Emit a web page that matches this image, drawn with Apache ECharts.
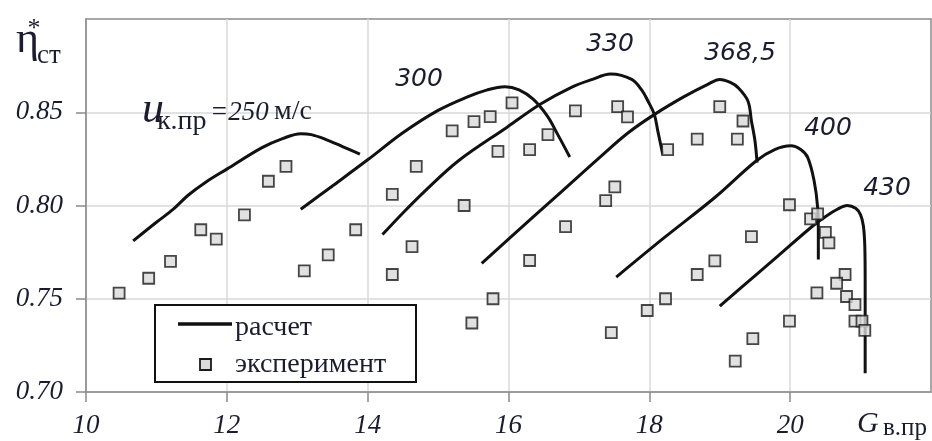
<!DOCTYPE html>
<html>
<head>
<meta charset="utf-8">
<script src="https://cdn.jsdelivr.net/npm/echarts@6/dist/echarts.min.js"></script>
<style>
  html, body { margin: 0; padding: 0; background: #fff; }
  #chart { width: 932px; height: 441px; }
</style>
</head>
<body>
<div id="chart"></div>
<script>
// Axis ticks
const xTickValues = [10, 12, 14, 16, 18, 20];
const yTickValues = [0.70, 0.75, 0.80, 0.85];

// Computed stage efficiency lines (расчет), one per corrected blade speed, [G, eta]
const calc250 = [[10.67, 0.781], [11.0, 0.791], [11.24, 0.798], [11.45, 0.8055], [11.7, 0.8125], [12.0, 0.8195],
  [12.5, 0.831], [12.8, 0.836], [13.05, 0.8385], [13.2, 0.838], [13.4, 0.8355], [13.65, 0.8315], [13.89, 0.8275]];
const calc300 = [[13.05, 0.798], [13.5, 0.8105], [14.0, 0.8245], [14.5, 0.839], [15.0, 0.851], [15.4, 0.858],
  [15.7, 0.862], [15.95, 0.8637], [16.15, 0.862], [16.35, 0.857], [16.55, 0.848], [16.7, 0.838], [16.87, 0.826]];
const calc330 = [[14.21, 0.7844], [14.5, 0.796], [14.82, 0.808], [15.29, 0.824], [15.98, 0.842], [16.45, 0.8543],
  [16.9, 0.8635], [17.18, 0.8675], [17.45, 0.8705], [17.75, 0.8676], [17.9, 0.8615], [17.98, 0.856],
  [18.07, 0.849], [18.12, 0.840], [18.19, 0.8275]];
const calc368 = [[15.62, 0.769], [16.0, 0.782], [16.71, 0.806], [17.3, 0.826], [17.7, 0.839], [18.08, 0.849],
  [18.5, 0.8585], [18.83, 0.865], [19.0, 0.8676], [19.15, 0.866], [19.26, 0.8632], [19.4, 0.856],
  [19.45, 0.8453], [19.5, 0.8347], [19.53, 0.823]];
const calc400 = [[17.53, 0.7616], [18.22, 0.783], [18.93, 0.8043], [19.52, 0.824], [19.78, 0.830], [20.01, 0.832],
  [20.15, 0.830], [20.25, 0.8257], [20.34, 0.8133], [20.39, 0.799], [20.40, 0.785], [20.40, 0.771]];
const calc430 = [[19.0, 0.746], [19.54, 0.7636], [19.82, 0.7727], [20.32, 0.789], [20.5, 0.794], [20.67, 0.798],
  [20.81, 0.800], [20.93, 0.7985], [21.0, 0.795], [21.04, 0.789], [21.06, 0.778], [21.065, 0.76],
  [21.065, 0.735], [21.065, 0.710]];

// Experimental points (эксперимент), [G, eta]
const experiment = [
  [10.47, 0.753], [10.89, 0.761], [11.20, 0.770], [11.63, 0.787], [11.85, 0.782], [12.25, 0.795],
  [12.59, 0.813], [12.84, 0.821], [13.10, 0.765], [13.44, 0.7735], [13.83, 0.787],
  [14.35, 0.806], [14.35, 0.763], [14.63, 0.778], [14.69, 0.821], [15.20, 0.840], [15.51, 0.845],
  [15.74, 0.8477], [16.05, 0.855], [15.37, 0.800], [15.85, 0.829], [16.30, 0.830], [16.56, 0.838],
  [16.95, 0.8507], [17.55, 0.853], [17.51, 0.810], [17.38, 0.8026], [16.81, 0.7887], [16.30, 0.7705],
  [15.78, 0.750], [15.48, 0.737], [17.46, 0.7318],
  [17.69, 0.8475], [18.26, 0.830], [18.68, 0.8356], [19.0, 0.853], [19.33, 0.8453], [19.25, 0.8356],
  [19.45, 0.7833], [18.93, 0.7703], [18.68, 0.763], [18.23, 0.750], [17.97, 0.7437], [19.47, 0.7286],
  [19.22, 0.7166],
  [19.99, 0.8004], [20.29, 0.7928], [20.39, 0.7955], [20.50, 0.7856], [20.55, 0.780], [20.78, 0.763],
  [20.66, 0.7583], [20.38, 0.7532], [20.80, 0.7512], [20.92, 0.7468], [19.99, 0.738], [20.92, 0.738],
  [21.02, 0.738], [21.06, 0.733]
];

const calcLines = [calc250, calc300, calc330, calc368, calc400, calc430];

const SERIF = '"Liberation Serif", "Times New Roman", serif';
const SANS = '"DejaVu Sans", Verdana, sans-serif';
const INK = '#1c1c30';

function txt(text, x, y, font, align, extra) {
  return Object.assign({
    type: 'text', z: 50,
    style: { text: text, x: x, y: y, font: font, fill: INK,
      align: align || 'left', textAlign: align || 'left',
      verticalAlign: 'middle', textVerticalAlign: 'middle' }
  }, extra || {});
}

const chart = echarts.init(document.getElementById('chart'), null, { renderer: 'canvas' });

const series = calcLines.map(pts => ({
  type: 'line', name: 'расчет', data: pts, symbol: 'none', smooth: 0.35,
  lineStyle: { color: '#111', width: 3 }, z: 3, silent: true
}));
series.push({
  type: 'scatter', name: 'эксперимент', data: experiment, symbol: 'rect', symbolSize: 11,
  itemStyle: { color: '#d9d9d9', borderColor: '#1a1a1a', borderWidth: 1.8 }, z: 5, silent: true
});

chart.setOption({
  animation: false,
  backgroundColor: '#fff',
  grid: { left: 86, top: 19, right: 1, bottom: 49, show: true, borderColor: '#8a8a8a', borderWidth: 1.5 },
  xAxis: {
    type: 'value', min: 10, max: 22, interval: 2,
    axisLine: { show: true, lineStyle: { color: '#8a8a8a', width: 1.5 } },
    axisTick: { show: true, length: 10, customValues: xTickValues, lineStyle: { color: '#8a8a8a', width: 1.5 } },
    axisLabel: { customValues: xTickValues, margin: 20, color: INK,
      fontFamily: SERIF, fontStyle: 'italic', fontSize: 27 },
    splitLine: { show: true, lineStyle: { color: '#d9d9d9', width: 1.5 } }
  },
  yAxis: {
    type: 'value', min: 0.70, max: 0.90, interval: 0.05,
    axisLine: { show: true, lineStyle: { color: '#8a8a8a', width: 1.5 } },
    axisTick: { show: true, length: 10, customValues: yTickValues, lineStyle: { color: '#8a8a8a', width: 1.5 } },
    axisLabel: { customValues: yTickValues, margin: 23, color: INK,
      fontFamily: SERIF, fontStyle: 'italic', fontSize: 27,
      formatter: v => v.toFixed(2) },
    splitLine: { show: true, lineStyle: { color: '#d9d9d9', width: 1.5 } }
  },
  series: series,
  graphic: [
    // y axis name: η*ст
    txt('η', 16, 40, '44px ' + SERIF),
    txt('*', 34, 29, '26px ' + SERIF, 'center'),
    txt('ст', 37, 56, '27px ' + SERIF),
    // x axis name: Gв.пр
    txt('G', 857, 424, 'italic 30px ' + SERIF),
    txt('в.пр', 883, 428, '25px ' + SERIF),
    // speed labels
    txt('u', 142, 110, 'italic 44px ' + SERIF),
    txt('к.пр', 157, 122, '28px ' + SERIF),
    txt('=250', 210, 113, 'italic 27px ' + SERIF),
    txt('м/с', 274, 112, '28px ' + SERIF),
    txt('300', 419, 79, 'italic 25px ' + SANS, 'center'),
    txt('330', 610, 44, 'italic 25px ' + SANS, 'center'),
    txt('368,5', 740, 53, 'italic 25px ' + SANS, 'center'),
    txt('400', 828, 128, 'italic 25px ' + SANS, 'center'),
    txt('430', 887, 188, 'italic 25px ' + SANS, 'center'),
    // legend box
    { type: 'rect', z: 40, shape: { x: 155, y: 305, width: 261, height: 77 },
      style: { fill: '#fff', stroke: '#111', lineWidth: 2 } },
    { type: 'line', z: 45, shape: { x1: 178, y1: 324, x2: 232, y2: 324 },
      style: { stroke: '#111', lineWidth: 3.5 } },
    { type: 'rect', z: 45, shape: { x: 200, y: 359, width: 11, height: 11 },
      style: { fill: '#d9d9d9', stroke: '#1a1a1a', lineWidth: 1.8 } },
    txt('расчет', 235, 328, '28px ' + SERIF, 'left', { z: 50 }),
    txt('эксперимент', 235, 365, '28px ' + SERIF, 'left', { z: 50 })
  ]
});
</script>
</body>
</html>
